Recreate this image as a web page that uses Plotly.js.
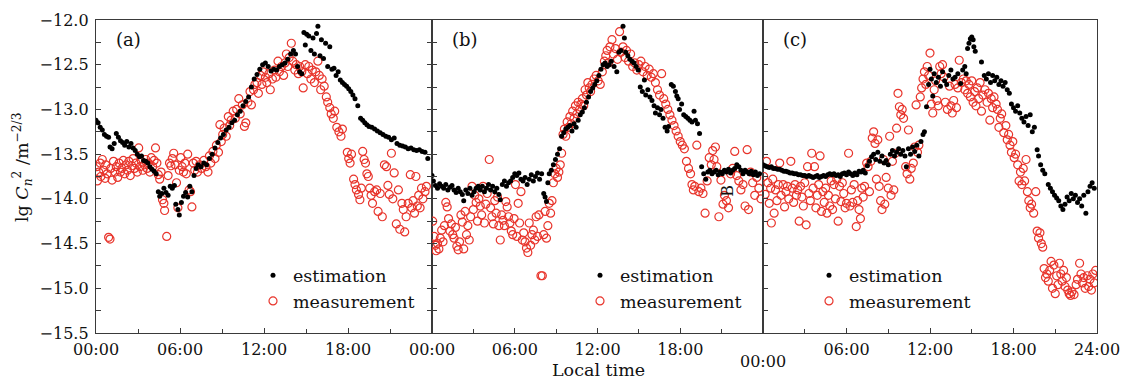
<!DOCTYPE html>
<html><head><meta charset="utf-8">
<script src="https://cdn.plot.ly/plotly-3.0.1.min.js"></script>
<style>html,body{margin:0;padding:0;background:#fff}#chart{width:1121px;height:380px}</style>
</head><body><div id="chart"></div>
<script>
// ---------- DATA (local time in hours, lg Cn2) ----------
const tickValsAB = [0, 6, 12, 18];
const tickTextAB = ["00:00", "06:00", "12:00", "18:00"];
const tickValsC = [6, 12, 18, 24];
const tickTextC = ["06:00", "12:00", "18:00", "24:00"];
const panelLabels = ["(a)", "(b)", "(c)"];
const seriesNames = ["estimation", "measurement"];

// Panel (a) estimation
const aEstT = [0.0,0.15,0.3,0.45,0.6,0.75,0.9,1.0,1.15,1.3,1.45,1.6,1.75,1.9,2.05,2.2,2.35,2.5,2.65,2.8,2.95,3.1,3.25,3.4,3.55,3.7,3.85,4.0,4.15,4.3,4.45,4.55,4.7,4.85,5.0,5.15,5.3,5.45,5.6,5.7,5.85,5.95,6.1,6.25,6.4,6.55,6.7,6.85,7.0,7.15,7.3,7.5,7.7,7.9,8.1,8.3,8.5,8.7,8.9,9.1,9.3,9.5,9.7,9.9,10.1,10.3,10.5,10.7,10.9,11.1,11.3,11.5,11.7,11.9,12.1,12.3,12.5,12.7,12.9,13.1,13.3,13.5,13.7,13.9,14.1,14.25,14.4,14.55,14.7,14.85,14.95,15.05,15.2,15.35,15.5,15.6,15.75,15.85,16.0,16.1,16.25,16.4,16.55,16.7,16.85,17.0,17.15,17.3,17.45,17.6,17.75,17.9,18.05,18.2,18.35,18.5,18.7,18.9,19.05,19.2,19.35,19.5,19.7,19.9,20.1,20.3,20.5,20.7,20.9,21.1,21.3,21.5,21.7,21.9,22.1,22.3,22.5,22.7,22.9,23.1,23.3,23.5,23.7];
const aEstV = [-13.12,-13.15,-13.20,-13.23,-13.28,-13.30,-13.31,-13.42,-13.44,-13.38,-13.27,-13.31,-13.35,-13.37,-13.40,-13.36,-13.42,-13.38,-13.43,-13.46,-13.50,-13.53,-13.52,-13.57,-13.58,-13.60,-13.64,-13.67,-13.69,-13.72,-13.92,-13.97,-13.94,-13.88,-13.93,-13.96,-13.86,-13.88,-13.85,-14.06,-14.12,-14.18,-14.04,-13.97,-13.93,-13.98,-13.86,-13.92,-13.74,-13.66,-13.62,-13.64,-13.60,-13.62,-13.55,-13.50,-13.43,-13.37,-13.32,-13.28,-13.23,-13.20,-13.15,-13.12,-13.06,-13.02,-12.96,-12.91,-12.86,-12.75,-12.66,-12.61,-12.55,-12.50,-12.48,-12.52,-12.57,-12.55,-12.56,-12.52,-12.50,-12.48,-12.44,-12.38,-12.34,-12.38,-12.52,-12.58,-12.60,-12.14,-12.28,-12.16,-12.18,-12.34,-12.20,-12.38,-12.15,-12.07,-12.40,-12.22,-12.43,-12.26,-12.52,-12.30,-12.55,-12.54,-12.62,-12.58,-12.67,-12.70,-12.72,-12.74,-12.77,-12.80,-12.84,-12.88,-12.96,-13.10,-13.12,-13.15,-13.17,-13.19,-13.20,-13.22,-13.24,-13.26,-13.28,-13.30,-13.31,-13.34,-13.32,-13.38,-13.40,-13.41,-13.42,-13.44,-13.43,-13.45,-13.46,-13.45,-13.47,-13.48,-13.55];
// Panel (a) measurement
const aMeaT = [0.05,0.1,0.2,0.3,0.35,0.45,0.55,0.65,0.7,0.8,0.9,1.0,1.05,1.15,1.25,1.35,1.45,1.55,1.65,1.75,1.85,1.95,2.05,2.15,2.25,2.35,2.45,2.55,2.65,2.75,2.85,2.95,3.05,3.15,3.25,3.35,3.45,3.55,3.65,3.75,3.85,3.95,4.05,4.15,4.25,4.35,4.45,4.55,4.65,4.75,4.85,4.9,5.05,5.15,5.25,5.35,5.45,5.55,5.65,5.75,5.85,5.95,6.05,6.15,6.25,6.35,6.45,6.55,6.65,6.75,6.85,6.95,7.05,7.15,7.25,7.4,7.55,7.7,7.85,8.0,8.1,8.2,8.35,8.5,8.6,8.75,8.85,8.95,9.05,9.15,9.3,9.45,9.55,9.65,9.8,9.95,10.05,10.2,10.3,10.45,10.6,10.7,10.85,11.0,11.1,11.25,11.35,11.5,11.6,11.75,11.85,11.95,12.1,12.2,12.35,12.45,12.6,12.75,12.85,13.0,13.1,13.25,13.4,13.5,13.6,13.7,13.8,13.95,14.05,14.2,14.3,14.45,14.55,14.7,14.8,14.95,15.1,15.2,15.35,15.45,15.6,15.7,15.85,15.95,16.05,16.15,16.3,16.45,16.55,16.7,16.8,16.95,17.05,17.2,17.35,17.5,17.6,17.95,18.05,18.15,18.25,18.4,18.5,18.6,18.75,18.85,18.95,19.05,19.15,19.25,19.35,19.45,19.55,19.65,19.75,19.9,20.05,20.15,20.3,20.45,20.6,20.75,20.85,20.95,21.1,21.2,21.3,21.45,21.6,21.7,21.85,21.95,22.05,22.15,22.3,22.45,22.55,22.65,22.75,22.85,22.95,23.05,23.15,23.25,23.35,23.5,23.6];
const aMeaV = [-13.64,-13.80,-13.70,-13.60,-13.75,-13.56,-13.68,-13.77,-13.62,-13.72,-14.43,-14.45,-13.66,-13.79,-13.58,-13.70,-13.64,-13.76,-13.60,-13.70,-13.66,-13.57,-13.72,-13.62,-13.68,-13.58,-13.74,-13.63,-13.55,-13.66,-13.60,-13.70,-13.43,-13.64,-13.58,-13.68,-13.62,-13.56,-13.66,-13.60,-13.70,-13.54,-13.64,-13.57,-13.43,-13.60,-13.73,-13.78,-13.70,-14.01,-14.05,-14.13,-14.42,-13.74,-13.60,-13.63,-13.55,-13.49,-13.62,-13.82,-14.10,-13.68,-13.54,-13.64,-13.70,-13.60,-13.72,-13.50,-13.90,-13.92,-14.09,-13.60,-13.68,-13.58,-13.70,-13.62,-13.66,-13.57,-13.64,-13.70,-13.52,-13.60,-13.47,-13.55,-13.40,-13.48,-13.17,-13.36,-13.28,-13.21,-13.30,-13.08,-13.18,-13.12,-13.02,-13.10,-13.00,-12.88,-13.05,-12.95,-13.19,-13.15,-12.92,-12.80,-12.95,-12.78,-12.72,-12.70,-12.82,-12.62,-12.72,-12.58,-12.64,-12.70,-12.60,-12.78,-12.66,-12.56,-12.64,-12.46,-12.58,-12.52,-12.62,-12.48,-12.38,-12.52,-12.42,-12.26,-12.46,-12.56,-12.50,-12.60,-12.52,-12.58,-12.76,-12.50,-12.60,-12.52,-12.66,-12.56,-12.70,-12.58,-12.46,-12.62,-12.78,-12.66,-12.74,-12.86,-12.92,-12.98,-13.05,-13.10,-13.02,-13.20,-13.25,-13.30,-13.22,-13.48,-13.55,-13.60,-13.50,-13.78,-13.84,-13.90,-13.95,-14.01,-13.88,-13.47,-13.56,-13.60,-13.72,-13.75,-13.88,-13.96,-14.05,-13.92,-13.90,-14.14,-13.94,-14.20,-13.62,-13.64,-13.85,-13.95,-13.49,-14.00,-13.71,-14.28,-13.90,-14.34,-14.05,-14.12,-14.37,-14.20,-14.05,-13.73,-14.10,-14.02,-14.16,-13.75,-14.08,-13.96,-14.10,-13.88,-14.00,-13.92,-13.86];

// Panel (b) estimation
const bEstT = [0.0,0.1,0.25,0.4,0.55,0.7,0.85,1.0,1.15,1.3,1.45,1.6,1.75,1.9,2.05,2.2,2.3,2.45,2.6,2.75,2.9,3.05,3.2,3.35,3.5,3.65,3.8,3.95,4.1,4.25,4.4,4.55,4.7,4.85,4.95,5.1,5.25,5.4,5.55,5.7,5.85,6.0,6.15,6.3,6.45,6.6,6.75,6.9,7.05,7.2,7.35,7.5,7.65,7.8,7.95,8.1,8.2,8.3,8.4,8.5,8.65,8.8,8.95,9.1,9.25,9.4,9.55,9.7,9.85,10.0,10.15,10.3,10.45,10.6,10.75,10.9,11.05,11.2,11.35,11.5,11.65,11.8,11.95,12.1,12.25,12.4,12.55,12.7,12.85,13.0,13.2,13.4,13.55,13.7,13.85,13.95,14.05,14.2,14.35,14.5,14.65,14.8,14.95,15.1,15.25,15.4,15.5,15.65,15.8,15.95,16.1,16.2,16.35,16.5,16.6,16.75,16.9,17.05,17.15,17.35,17.5,17.65,17.75,17.85,17.95,18.1,18.25,18.4,18.55,18.7,18.85,19.0,19.1,19.25,19.4,19.55,19.7,19.85,20.0,20.15,20.3,20.45,20.6,20.75,20.9,21.05,21.2,21.35,21.5,21.65,21.8,21.95,22.1,22.25,22.4,22.55,22.7,22.85,23.0,23.15,23.3,23.45,23.6,23.75];
const bEstV = [-13.74,-13.80,-13.85,-13.88,-13.83,-13.86,-13.88,-13.84,-13.90,-13.87,-13.85,-13.90,-13.93,-13.88,-13.92,-13.95,-14.02,-13.90,-13.94,-13.88,-13.96,-13.92,-13.88,-13.86,-13.90,-13.86,-13.92,-13.88,-13.84,-13.90,-13.86,-13.92,-13.88,-13.95,-14.01,-13.84,-13.80,-13.86,-13.82,-13.80,-13.76,-13.72,-13.74,-13.71,-13.78,-13.80,-13.76,-13.84,-13.78,-13.73,-13.80,-13.75,-13.71,-13.78,-13.72,-13.94,-13.98,-14.03,-13.82,-13.72,-13.68,-13.62,-13.56,-13.50,-13.44,-13.30,-13.26,-13.22,-13.20,-13.18,-13.24,-13.16,-13.20,-13.12,-13.06,-13.03,-12.98,-12.92,-12.86,-12.80,-12.76,-12.72,-12.68,-12.62,-12.55,-12.50,-12.48,-12.52,-12.50,-12.46,-12.52,-12.58,-12.36,-12.34,-12.07,-12.20,-12.36,-12.40,-12.44,-12.46,-12.48,-12.52,-12.56,-12.75,-12.80,-12.67,-12.84,-12.78,-12.86,-12.90,-12.96,-13.04,-12.98,-13.06,-13.00,-13.10,-13.20,-13.24,-13.19,-12.72,-12.74,-12.80,-12.85,-12.88,-13.00,-12.94,-13.06,-13.08,-13.10,-13.12,-13.14,-13.02,-13.12,-13.16,-13.27,-13.64,-13.72,-13.78,-13.70,-13.68,-13.72,-13.70,-13.68,-13.73,-13.70,-13.72,-13.68,-13.70,-13.67,-13.71,-13.68,-13.66,-13.62,-13.64,-13.68,-13.72,-13.68,-13.70,-13.72,-13.69,-13.73,-13.70,-13.74,-13.72];
// Panel (b) measurement
const bMeaT = [0.05,0.15,0.25,0.3,0.4,0.5,0.6,0.7,0.8,0.9,1.0,1.1,1.2,1.3,1.4,1.5,1.6,1.7,1.8,1.9,2.0,2.1,2.2,2.3,2.4,2.5,2.6,2.7,2.8,2.9,3.0,3.1,3.2,3.3,3.4,3.5,3.6,3.7,3.8,3.9,4.0,4.15,4.25,4.35,4.45,4.55,4.65,4.75,4.85,4.95,5.05,5.15,5.25,5.35,5.45,5.55,5.65,5.75,5.85,5.95,6.05,6.15,6.25,6.35,6.45,6.55,6.65,6.75,6.85,6.95,7.05,7.15,7.25,7.35,7.45,7.55,7.65,7.75,7.9,8.0,8.1,8.2,8.3,8.4,8.5,8.6,8.7,8.8,8.9,9.0,9.1,9.2,9.3,9.4,9.5,9.6,9.7,9.8,9.9,10.0,10.1,10.2,10.3,10.4,10.5,10.6,10.7,10.8,10.9,11.0,11.1,11.2,11.3,11.4,11.5,11.6,11.75,11.9,12.05,12.2,12.35,12.5,12.6,12.7,12.8,12.9,13.05,13.15,13.3,13.45,13.6,13.7,13.85,14.0,14.1,14.25,14.4,14.55,14.7,14.85,15.0,15.15,15.3,15.45,15.6,15.75,15.9,16.05,16.2,16.35,16.5,16.65,16.8,16.95,17.1,17.25,17.4,17.55,17.7,17.85,18.0,18.15,18.3,18.45,18.6,18.75,18.85,18.95,19.05,19.2,19.35,19.5,19.65,19.8,19.95,20.1,20.25,20.35,20.45,20.55,20.65,20.8,20.95,21.1,21.2,21.35,21.5,21.65,21.8,21.95,22.1,22.25,22.4,22.55,22.7,22.85,22.95,23.1,23.25,23.4,23.55,23.7,23.85];
const bMeaV = [-14.25,-14.42,-14.52,-14.58,-14.50,-14.56,-14.44,-14.35,-14.48,-14.30,-14.04,-14.09,-14.22,-14.36,-14.28,-14.40,-14.44,-14.32,-14.53,-14.57,-14.48,-14.18,-14.26,-14.56,-14.14,-14.40,-14.30,-14.46,-14.20,-13.86,-14.12,-13.96,-14.04,-14.25,-14.00,-14.08,-14.18,-13.86,-14.27,-14.06,-13.94,-13.56,-14.10,-14.20,-14.28,-14.02,-14.16,-13.98,-14.30,-14.46,-14.18,-14.24,-14.30,-14.03,-14.09,-14.20,-14.27,-14.36,-14.40,-14.22,-13.84,-14.42,-14.05,-14.27,-13.92,-14.46,-14.38,-14.48,-14.55,-14.60,-14.27,-14.52,-14.40,-14.35,-14.46,-14.20,-14.42,-14.18,-14.86,-14.86,-14.40,-14.14,-14.44,-14.30,-14.05,-14.16,-14.02,-13.82,-13.72,-13.66,-13.76,-13.70,-13.62,-13.49,-13.28,-13.22,-13.30,-13.14,-13.20,-13.08,-13.16,-13.02,-13.10,-12.96,-13.05,-12.92,-13.00,-12.94,-12.88,-12.96,-12.78,-12.84,-12.70,-12.76,-12.80,-12.72,-12.66,-12.62,-12.68,-12.72,-12.58,-12.46,-12.40,-12.34,-12.48,-12.30,-12.22,-12.38,-12.32,-12.44,-12.13,-12.36,-12.30,-12.42,-12.34,-12.46,-12.38,-12.52,-12.48,-12.56,-12.50,-12.46,-12.58,-12.52,-12.62,-12.55,-12.64,-12.60,-12.70,-12.78,-12.84,-12.60,-12.88,-12.94,-13.00,-13.06,-13.12,-13.18,-13.24,-13.30,-13.36,-13.40,-13.44,-13.58,-13.66,-13.72,-13.84,-13.90,-13.86,-13.40,-13.92,-13.88,-13.94,-14.16,-13.80,-13.54,-13.62,-13.46,-13.56,-13.42,-13.64,-14.20,-13.79,-14.06,-13.96,-14.02,-14.10,-13.72,-13.66,-13.47,-13.74,-13.80,-13.90,-13.84,-14.08,-13.45,-14.12,-13.70,-13.82,-13.96,-13.76,-13.88,-14.00];

// Panel (c) estimation
const cEstT = [0.0,0.15,0.3,0.45,0.6,0.75,0.9,1.05,1.2,1.35,1.5,1.65,1.8,1.95,2.1,2.25,2.4,2.55,2.7,2.85,3.0,3.15,3.3,3.45,3.6,3.75,3.9,4.05,4.2,4.35,4.5,4.65,4.8,4.95,5.1,5.25,5.4,5.55,5.7,5.85,6.0,6.15,6.3,6.45,6.6,6.75,6.9,7.05,7.2,7.35,7.5,7.65,7.8,7.95,8.1,8.25,8.4,8.55,8.7,8.85,9.0,9.15,9.3,9.45,9.6,9.75,9.9,10.05,10.2,10.3,10.45,10.6,10.75,10.9,11.05,11.2,11.35,11.5,11.6,11.75,11.9,12.0,12.1,12.2,12.3,12.45,12.6,12.75,12.9,13.05,13.2,13.35,13.5,13.65,13.8,14.0,14.2,14.35,14.5,14.6,14.7,14.8,14.9,15.0,15.1,15.15,15.25,15.7,15.9,16.05,16.2,16.35,16.5,16.65,16.8,16.95,17.1,17.25,17.4,17.55,17.7,17.85,18.0,18.15,18.3,18.45,18.6,18.75,18.9,19.05,19.2,19.35,19.5,19.7,19.8,19.95,20.1,20.25,20.5,20.65,20.8,20.95,21.1,21.25,21.4,21.55,21.7,21.85,22.0,22.15,22.3,22.45,22.6,22.75,22.9,23.05,23.2,23.35,23.5,23.65,23.8];
const cEstV = [-13.62,-13.63,-13.64,-13.65,-13.64,-13.66,-13.66,-13.67,-13.67,-13.68,-13.69,-13.69,-13.70,-13.71,-13.71,-13.72,-13.72,-13.73,-13.73,-13.74,-13.74,-13.75,-13.74,-13.75,-13.76,-13.75,-13.74,-13.76,-13.75,-13.74,-13.75,-13.73,-13.72,-13.73,-13.72,-13.74,-13.73,-13.75,-13.72,-13.71,-13.73,-13.70,-13.72,-13.74,-13.71,-13.73,-13.69,-13.70,-13.68,-13.71,-13.63,-13.58,-13.53,-13.50,-13.56,-13.48,-13.58,-13.52,-13.60,-13.57,-13.62,-13.50,-13.46,-13.52,-13.48,-13.44,-13.50,-13.46,-13.52,-13.64,-13.44,-13.50,-13.42,-13.47,-13.40,-13.52,-13.36,-13.28,-13.25,-12.97,-12.72,-12.55,-12.66,-12.85,-12.60,-12.70,-12.64,-12.74,-12.58,-12.68,-12.72,-12.62,-12.56,-12.66,-12.64,-12.60,-12.71,-12.56,-12.52,-12.60,-12.32,-12.26,-12.21,-12.19,-12.22,-12.30,-12.35,-12.47,-12.62,-12.66,-12.60,-12.70,-12.62,-12.68,-12.64,-12.72,-12.68,-12.74,-12.70,-12.78,-12.82,-12.94,-12.98,-13.02,-12.96,-13.04,-13.10,-13.14,-13.08,-13.18,-13.06,-13.25,-13.20,-13.45,-13.52,-13.62,-13.68,-13.72,-13.84,-13.88,-13.92,-13.96,-13.99,-14.02,-14.08,-14.12,-14.06,-13.98,-14.02,-13.94,-14.00,-13.96,-14.04,-14.00,-14.08,-13.96,-14.16,-13.92,-13.86,-13.82,-13.88];
// Panel (c) measurement
const cMeaT = [0.05,0.15,0.25,0.35,0.45,0.55,0.6,0.7,0.8,0.9,1.0,1.1,1.2,1.3,1.45,1.55,1.65,1.75,1.85,2.0,2.1,2.2,2.3,2.4,2.5,2.6,2.7,2.8,2.9,3.0,3.1,3.2,3.3,3.4,3.5,3.6,3.7,3.8,3.9,4.0,4.1,4.2,4.3,4.4,4.5,4.6,4.7,4.8,4.9,5.0,5.1,5.2,5.3,5.4,5.5,5.6,5.7,5.8,5.9,6.0,6.15,6.25,6.35,6.45,6.55,6.7,6.8,6.9,7.0,7.1,7.2,7.3,7.45,7.55,7.65,7.75,7.85,7.95,8.05,8.15,8.25,8.35,8.45,8.55,8.65,8.75,8.85,9.0,9.1,9.2,9.3,9.4,9.5,9.6,9.7,9.8,9.9,10.0,10.1,10.25,10.35,10.45,10.55,10.65,10.8,10.9,11.0,11.1,11.2,11.3,11.4,11.5,11.6,11.7,11.8,11.9,12.0,12.1,12.2,12.3,12.4,12.5,12.6,12.7,12.8,12.9,13.0,13.1,13.25,13.4,13.5,13.6,13.7,13.8,13.9,14.0,14.1,14.25,14.4,14.5,14.6,14.7,14.8,14.9,15.0,15.1,15.2,15.3,15.4,15.5,15.6,15.7,15.8,15.95,16.1,16.2,16.3,16.4,16.5,16.6,16.75,16.85,16.95,17.05,17.15,17.3,17.45,17.55,17.65,17.75,17.85,17.95,18.05,18.15,18.3,18.4,18.5,18.6,18.7,18.8,18.9,19.0,19.1,19.2,19.3,19.45,19.6,19.7,19.8,19.9,20.0,20.1,20.2,20.3,20.4,20.5,20.6,20.7,20.8,20.9,21.0,21.1,21.2,21.3,21.4,21.5,21.6,21.7,21.8,21.9,22.0,22.1,22.2,22.35,22.5,22.6,22.75,22.85,22.95,23.05,23.15,23.3,23.4,23.5,23.6,23.7,23.8,23.9];
const cMeaV = [-13.75,-13.95,-13.58,-13.82,-14.05,-13.88,-14.27,-13.78,-14.16,-13.90,-14.02,-13.84,-13.60,-13.96,-13.84,-14.09,-13.92,-13.86,-14.00,-13.58,-13.88,-14.04,-13.84,-13.96,-13.90,-14.25,-13.86,-13.98,-14.08,-13.82,-14.29,-13.64,-13.94,-14.02,-13.49,-13.88,-13.64,-14.10,-13.96,-13.84,-13.52,-14.14,-13.92,-14.04,-13.88,-14.16,-13.96,-14.08,-13.80,-14.12,-13.84,-14.00,-13.78,-14.25,-13.86,-14.03,-13.82,-13.94,-14.10,-14.05,-13.49,-14.08,-13.90,-14.04,-13.84,-14.31,-14.02,-14.12,-14.22,-13.88,-13.98,-13.86,-13.60,-13.64,-13.92,-13.58,-13.32,-13.25,-13.38,-13.78,-13.34,-13.86,-14.02,-14.12,-13.56,-14.06,-13.76,-13.88,-13.30,-13.96,-13.58,-13.90,-13.49,-13.21,-12.82,-12.97,-13.06,-13.00,-13.10,-13.64,-13.72,-13.23,-13.78,-13.66,-13.60,-13.42,-12.95,-13.48,-13.40,-12.86,-12.76,-12.66,-12.58,-12.72,-12.52,-12.62,-12.37,-12.94,-13.04,-12.78,-12.68,-12.90,-12.96,-12.52,-12.60,-12.50,-12.64,-12.92,-13.00,-12.74,-12.96,-13.04,-12.90,-12.72,-12.98,-12.76,-12.45,-12.70,-12.66,-12.78,-12.68,-12.82,-12.72,-12.86,-12.68,-12.92,-12.80,-12.96,-12.76,-12.88,-12.70,-13.02,-12.84,-12.78,-12.92,-12.82,-13.12,-12.88,-12.98,-12.86,-12.94,-13.00,-13.20,-13.10,-13.05,-13.26,-13.18,-13.34,-13.28,-13.40,-13.48,-13.36,-13.54,-13.50,-13.62,-13.80,-13.70,-13.84,-13.66,-13.80,-13.56,-13.92,-14.02,-14.10,-14.06,-14.16,-13.92,-14.36,-14.44,-14.38,-14.50,-14.54,-14.78,-14.88,-14.84,-14.92,-14.80,-14.70,-15.00,-14.74,-15.06,-14.86,-14.96,-14.72,-14.84,-14.92,-14.80,-14.98,-14.88,-15.02,-15.06,-15.08,-15.04,-15.07,-14.96,-14.90,-14.72,-14.84,-14.94,-14.88,-15.00,-14.86,-14.98,-14.90,-15.02,-14.84,-14.94,-14.80];

// ---------- CHART ----------
const FONT = "DejaVu Serif, Liberation Serif, serif";
const RED = "#e8342b";
const LINE = "#3a3a3a";

function est(t, v, i) {
  return {x: t, y: v, type: "scatter", mode: "markers", name: seriesNames[0],
    xaxis: "x" + (i === 1 ? "" : i), yaxis: "y" + (i === 1 ? "" : i),
    legend: "legend" + (i === 1 ? "" : i),
    marker: {symbol: "circle", size: 5, color: "#000"}, cliponaxis: true};
}
function mea(t, v, i) {
  return {x: t, y: v, type: "scatter", mode: "markers", name: seriesNames[1],
    xaxis: "x" + (i === 1 ? "" : i), yaxis: "y" + (i === 1 ? "" : i),
    legend: "legend" + (i === 1 ? "" : i),
    marker: {symbol: "circle-open", size: 8, color: RED, line: {color: RED, width: 1.2}}, cliponaxis: true};
}

const traces = [
  mea(aMeaT, aMeaV, 1), est(aEstT, aEstV, 1),
  mea(bMeaT, bMeaV, 2), est(bEstT, bEstV, 2),
  mea(cMeaT, cMeaV, 3), est(cEstT, cEstV, 3)
];

const d1 = 336 / 1001, d2 = 667 / 1001;
function xax(dom, anchor, tv, tt) {
  return {domain: dom, anchor: anchor, range: [0, 24], tickmode: "array", tickvals: tv, ticktext: tt,
    ticks: "inside", ticklen: 5, tickcolor: LINE, tickwidth: 1,
    minor: {tickmode: "array", tickvals: [3, 9, 15, 21], ticks: "inside", ticklen: 4, tickcolor: LINE},
    showline: true, linecolor: LINE, linewidth: 1.2, mirror: true,
    showgrid: false, zeroline: false, ticklabelstandoff: 2,
    tickfont: {family: FONT, size: 16, color: "#111"}, fixedrange: true};
}
function yax(anchor, labels, mir) {
  return {anchor: anchor, range: [-15.5, -12.0], tickmode: "linear", tick0: -12, dtick: 0.5, tickformat: ".1f",
    ticks: "inside", ticklen: 5, tickcolor: LINE, tickwidth: 1,
    minor: {dtick: 0.25, tick0: -12, ticks: "inside", ticklen: 5, tickcolor: LINE},
    showline: true, linecolor: LINE, linewidth: 1.2, mirror: mir,
    showgrid: false, zeroline: false, showticklabels: labels, ticklabelstandoff: 3,
    tickfont: {family: FONT, size: 16, color: "#111"}, fixedrange: true};
}
function leg(xp) {
  return {x: xp, xanchor: "left", y: 0.242, yanchor: "top", bgcolor: "rgba(0,0,0,0)", borderwidth: 0,
    font: {family: FONT, size: 17.5, color: "#111"}, traceorder: "reversed", itemwidth: 30, tracegroupgap: 0};
}

const ann = [];
const refs = ["x", "x2", "x3"], yrefs = ["y", "y2", "y3"];
panelLabels.forEach((p, i) => ann.push({text: p, xref: refs[i], yref: yrefs[i], x: 1.3, y: -12.22,
  xanchor: "left", yanchor: "middle", showarrow: false, font: {family: FONT, size: 18, color: "#111"}}));
ann.push({text: "00:00", xref: "x3", x: 0, yref: "paper", y: -0.09, xanchor: "center", yanchor: "middle",
  showarrow: false, font: {family: FONT, size: 16, color: "#111"}});
ann.push({text: "Local time", xref: "paper", x: 0.5015, yref: "paper", y: -0.118, xanchor: "center", yanchor: "middle",
  showarrow: false, font: {family: FONT, size: 17.5, color: "#111"}});
ann.push({text: "lg <i>C</i><sub><i>n</i></sub><sup>2</sup> /m<sup>−2/3</sup>", xref: "paper", x: -0.074, yref: "paper", y: 0.53,
  xanchor: "center", yanchor: "middle", textangle: -90, showarrow: false, font: {family: FONT, size: 17.5, color: "#111"}});
ann.push({text: "B", xref: "x2", x: 21.46, yref: "y2", y: -13.91, xanchor: "center", yanchor: "middle", textangle: -90,
  showarrow: false, font: {family: FONT, size: 16, color: "#111"}});

const layout = {
  width: 1121, height: 380,
  margin: {l: 96, r: 24, t: 20, b: 47},
  paper_bgcolor: "#fff", plot_bgcolor: "#fff",
  font: {family: FONT, color: "#111"},
  xaxis: xax([0, d1], "y", tickValsAB, tickTextAB),
  xaxis2: xax([d1, d2], "y2", tickValsAB, tickTextAB),
  xaxis3: xax([d2, 1], "y3", tickValsC, tickTextC),
  yaxis: yax("x", true, "ticks"),
  yaxis2: yax("x2", false, true),
  yaxis3: yax("x3", false, true),
  legend: leg((253 - 96) / 1001),
  legend2: leg((580 - 96) / 1001),
  legend3: leg((809 - 96) / 1001),
  annotations: ann,
  showlegend: true
};

Plotly.newPlot("chart", traces, layout, {staticPlot: true, displayModeBar: false});
</script></body></html>
